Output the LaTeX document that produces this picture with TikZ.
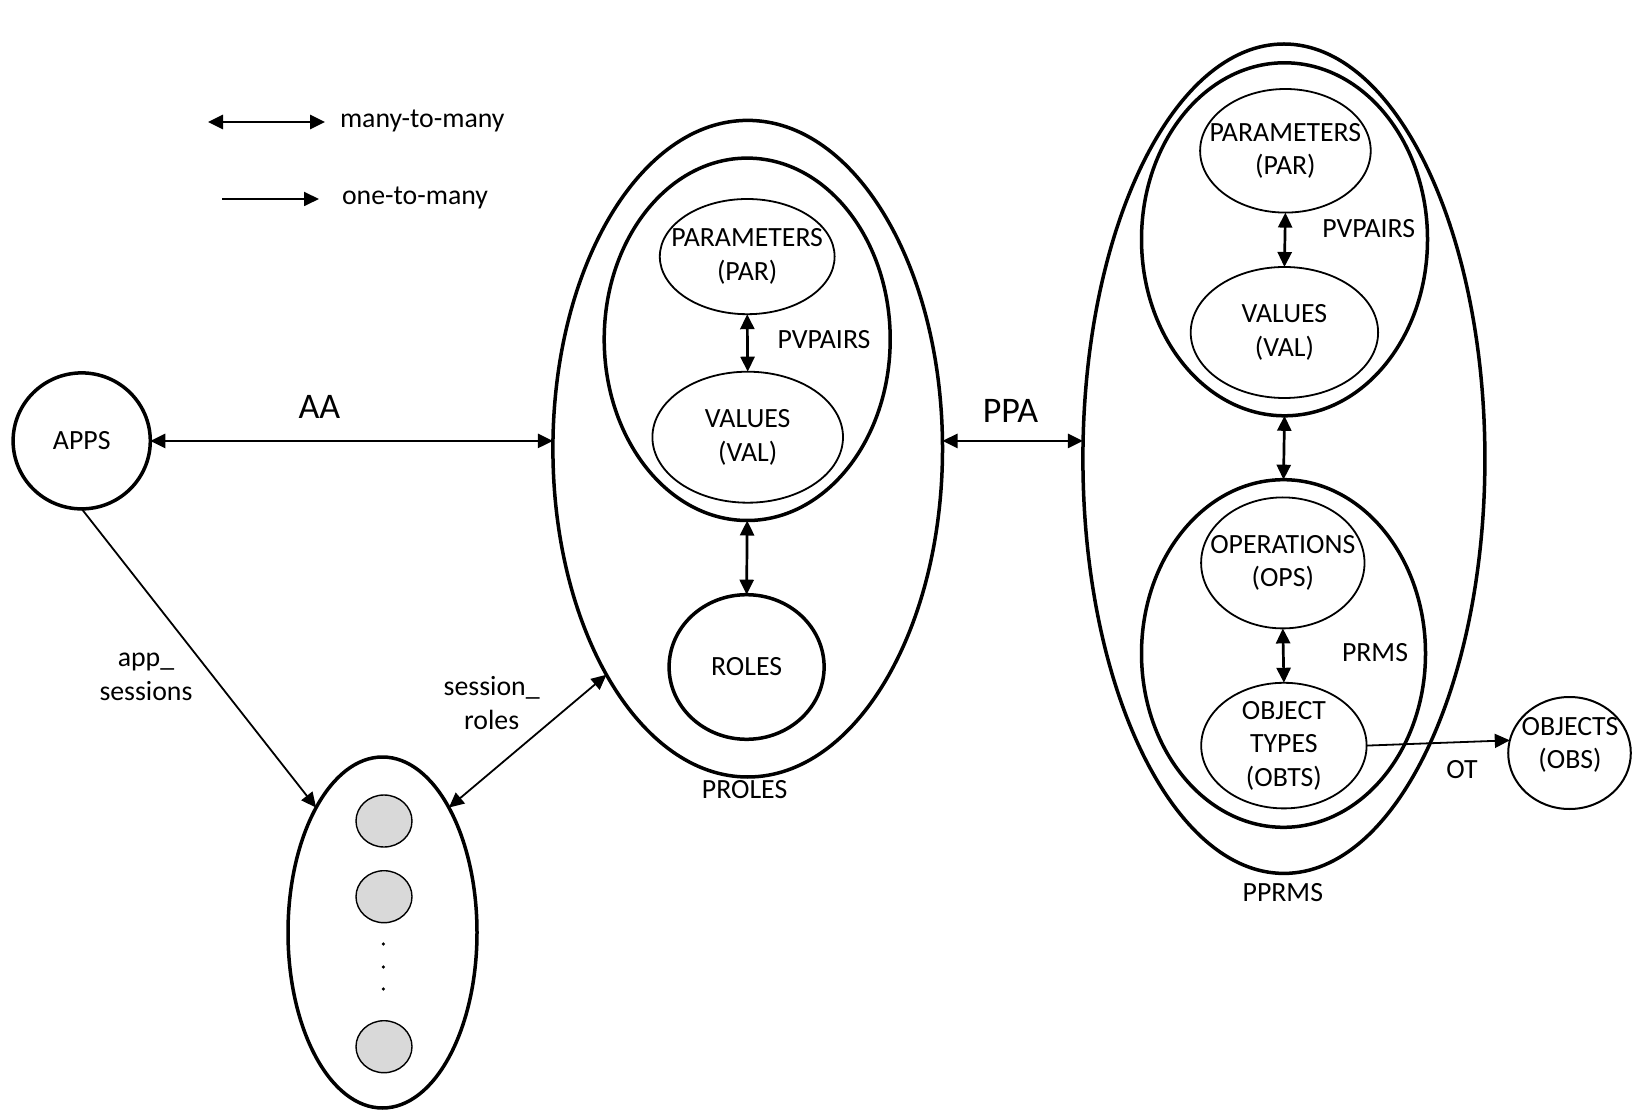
\documentclass[tikz,border=0pt]{standalone}
\usepackage{fontspec}
\setmainfont{Carlito}
\usetikzlibrary{shapes.geometric,arrows.meta}
\begin{document}
\begin{tikzpicture}[x=0.5pt,y=-0.5pt,
  every node/.style={font=\fontsize{13.9}{16.8}\selectfont, inner sep=0pt, outer sep=0pt},
  every label/.style={align=center, label distance=0pt},
  oval/.style={ellipse, draw, line width=0.9pt},
  bold oval/.style={ellipse, draw, line width=1.75pt},
  member/.style={ellipse, draw, line width=0.7pt, fill=black!15, minimum width=28pt, minimum height=26pt},
  dot/.style={circle, fill, minimum size=1.8pt},
  big/.style={font=\fontsize{18}{21}\selectfont},
  tip/.style={-{Triangle[length=7.5pt,width=7pt]}},
  tips/.style={{Triangle[length=7.5pt,width=7pt]}-{Triangle[length=7.5pt,width=7pt]}},
  heavy/.style={line width=1.35pt},
  light/.style={line width=0.9pt}
]
\useasboundingbox (0,0) rectangle (1642,1111);

% legend
\coordinate (m1) at (208,122);
\coordinate (m2) at (325,122);
\coordinate (o1) at (222,199);
\coordinate (o2) at (319,199);
\node[anchor=west] (mmtext) at (340,121) {many-to-many};
\node[anchor=west] (omtext) at (342,198) {one-to-many};
\draw[tips, heavy] (m1) -- (m2);
\draw[tip, light] (o1) -- (o2);

% applications
\node[bold oval, minimum width=68.6pt, minimum height=68pt] (apps) at (81.7,440.9) {APPS};

% sessions
\node[bold oval, minimum width=94.5pt, minimum height=175.5pt] (sess) at (382.5,932.5) {};
\node[member] (s1) at (384,821) {};
\node[member] (s2) at (384,896.7) {};
\node[member] (s3) at (384,1046.7) {};
\node[dot] (d1) at (383.3,944) {};
\node[dot] (d2) at (383.3,967) {};
\node[dot] (d3) at (383.3,989) {};

% parameterised roles
\node[bold oval, minimum width=194.8pt, minimum height=328.3pt] (proles) at (747.7,448.7) {};
\node[bold oval, minimum width=143pt, minimum height=181.2pt] (pvin) at (747.2,339.3) {};
\node[oval, minimum width=87.4pt, minimum height=57.6pt,
  label=center:{PARAMETERS\\(PAR)}] (par) at (747.2,256.6) {};
\node[oval, minimum width=95.3pt, minimum height=65.5pt,
  label=center:{VALUES\\(VAL)}] (val) at (747.7,437.2) {};
\node[bold oval, minimum width=77.5pt, minimum height=72.3pt,
  label=center:ROLES] (roles) at (746.6,667) {};
\node (pvlbl) at (824,340) {PVPAIRS};
\node (proleslbl) at (744.6,789.6) {PROLES};

% parameterised permissions
\node[bold oval, minimum width=201pt, minimum height=414.7pt] (pprms) at (1283.9,458.7) {};
\node[bold oval, minimum width=143pt, minimum height=176.5pt] (pvin2) at (1284.5,239.3) {};
\node[oval, minimum width=85.3pt, minimum height=61.8pt,
  label=center:{PARAMETERS\\(PAR)}] (par2) at (1285.4,150.8) {};
\node[oval, minimum width=93.7pt, minimum height=65.5pt,
  label=center:{VALUES\\(VAL)}] (val2) at (1284.4,332.5) {};
\node[bold oval, minimum width=142pt, minimum height=173.8pt] (prms) at (1283.5,653.5) {};
\node[oval, minimum width=81.7pt, minimum height=65.5pt,
  label=center:{OPERATIONS\\(OPS)}] (ops) at (1282.8,562.9) {};
\node[oval, minimum width=82.7pt, minimum height=62.8pt,
  label=center:{OBJECT\\TYPES\\(OBTS)}] (obts) at (1283.9,745.6) {};
\node (pv2lbl) at (1368.7,228.3) {PVPAIRS};
\node (prmslbl) at (1375,652.4) {PRMS};
\node (pprmslbl) at (1282.8,892.2) {PPRMS};

% objects
\node[ellipse, draw, line width=1pt, minimum width=61.3pt, minimum height=56pt] (objs) at (1569.5,753) {};
\node[align=center] (objstext) at (1570,745) {OBJECTS\\(OBS)};

% relations
\draw[tips, heavy] (apps.east) -- (apps.east -| proles.west);
\node[big] (aalbl) at (319.4,407.4) {AA};
\draw[tips, heavy] (proles.east |- apps.east) -- (pprms.west |- apps.east);
\node[big] (ppalbl) at (1010.5,410.5) {PPA};
\draw[tip, light] (apps.south) -- (sess.118);
\node[align=center] (aslbl) at (146,677) {app\_\\sessions};
\draw[tips, light] (sess.62) -- (proles.238);
\node[align=center] (srlbl) at (491.7,703) {session\_\\roles};
\draw[tips, heavy] (par.south) -- (val.north);
\draw[tips, heavy] (pvin.south) -- (roles.north);
\draw[tips, heavy] (par2.south) -- (val2.north);
\draw[tips, heavy] (pvin2.south) -- (prms.north);
\draw[tips, heavy] (ops.south) -- (obts.north);
\draw[tip, light] (obts.east) -- (objs.168);
\node (otlbl) at (1462,769.5) {OT};
\end{tikzpicture}
\end{document}
